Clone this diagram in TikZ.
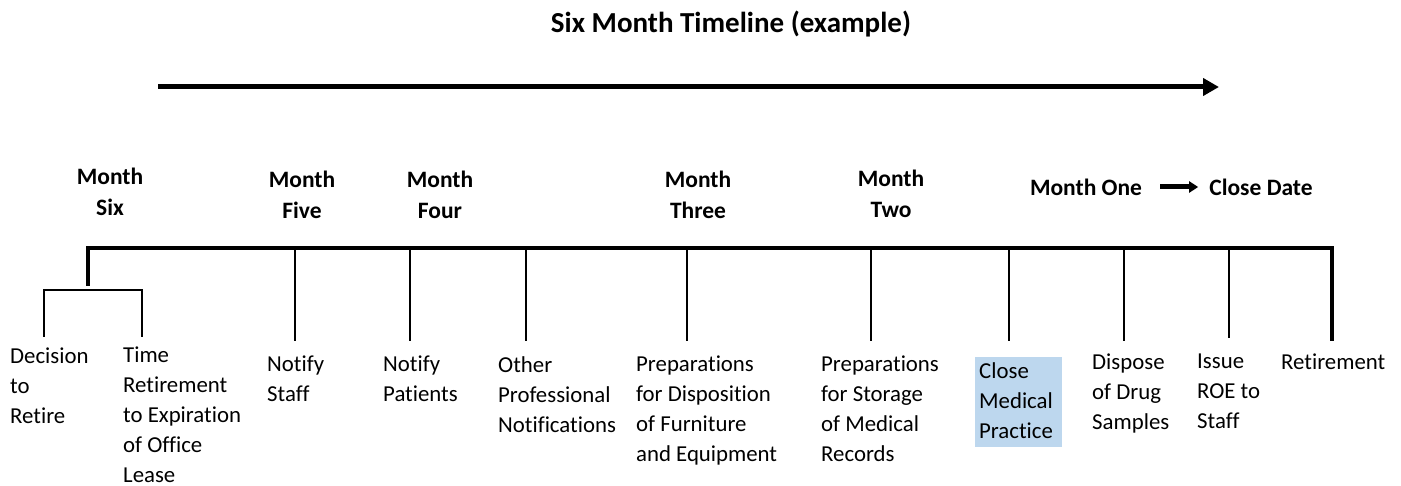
\documentclass[tikz,border=0pt]{standalone}
\usepackage{fontspec}
\setmainfont[Ligatures=NoCommon]{Carlito}
\usetikzlibrary{arrows.meta}
\definecolor{boxblue}{RGB}{189,215,238}
\tikzset{
	month/.style={anchor=north,align=center,inner sep=0,font=\bfseries\fontsize{23.5}{31}\selectfont},
	task/.style={anchor=north west,align=left,inner sep=0,font=\fontsize{22.8}{30}\selectfont},
	tick/.style={line width=1.5pt},
	bar/.style={line width=4pt}
}
\begin{document}
\begin{tikzpicture}[x=1pt,y=-1pt,line cap=butt,line join=miter]
		\useasboundingbox (0,0) rectangle (1401,486);
		
		\node[inner sep=0,font=\bfseries\fontsize{29}{34}\selectfont] (title) at (731,24) {Six Month Timeline (example)};
		\coordinate (a0) at (158,87);
		\coordinate (a1) at (1219,87);
		\draw[line width=5pt,-{Triangle[length=16pt,width=17pt]}] (a0) -- (a1);
		
		% headings
		\node[month] (m6) at (110,168) {Month\\Six};
		\node[month] (m5) at (302,171) {Month\\Five};
		\node[month] (m4) at (440,171) {Month\\Four};
		\node[month] (m3) at (698,171) {Month\\Three};
		\node[month] (m2) at (891,170) {Month\\Two};
		\node[month,anchor=center] (m1) at (1086,187) {Month One};
		\node[month,anchor=center] (cd) at (1261,187) {Close Date};
		\draw[line width=5pt,-{Triangle[length=9pt,width=11pt]},shorten <=18pt,shorten >=11pt] (m1.east) -- (cd.west);
		
		% timeline
		\draw[bar] (88,286) -- (88,248) -- (1332,248) -- (1332,341);
		\draw[tick] (44,337) -- (44,290) -- (142,290) -- (142,337);
		\draw[tick] (295,248) -- (295,341);
		\draw[tick] (410,248) -- (410,341);
		\draw[tick] (526,248) -- (526,341);
		\draw[tick] (687,248) -- (687,341);
		\draw[tick] (871,248) -- (871,341);
		\draw[tick] (1009,248) -- (1009,341);
		\draw[tick] (1124,248) -- (1124,341);
		\draw[tick] (1229,248) -- (1229,338);
		
		% tasks
		\fill[boxblue] (975,357) rectangle (1062,447);
		\node[task] (t1) at (10,348) {Decision\\to\\Retire};
		\node[task] (t2) at (123,347) {Time\\Retirement\\to Expiration\\of Office\\Lease};
		\node[task] (t3) at (267,356) {Notify\\Staff};
		\node[task] (t4) at (383,356) {Notify\\Patients};
		\node[task] (t5) at (498,356) {Other\\Professional\\Notifications};
		\node[task] (t6) at (636,356) {Preparations\\for Disposition\\of Furniture\\and Equipment};
		\node[task] (t7) at (821,356) {Preparations\\for Storage\\of Medical\\Records};
		\node[task] (t8) at (979,362) {Close\\Medical\\Practice};
		\node[task] (t9) at (1092,354) {Dispose\\of Drug\\Samples};
		\node[task] (t10) at (1197,354) {Issue\\ROE to\\Staff};
		\node[task] (t11) at (1281,354) {Retirement};
	\end{tikzpicture}
\end{document}
